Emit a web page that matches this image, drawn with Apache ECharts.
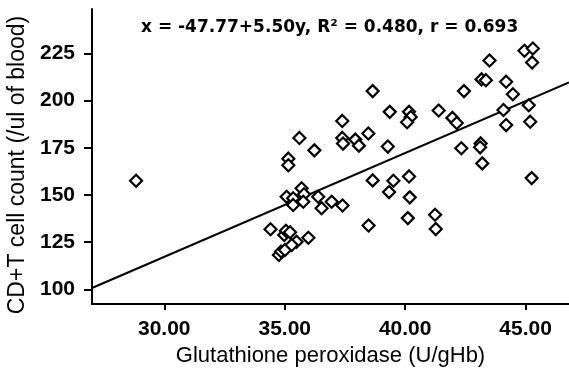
<!DOCTYPE html>
<html>
<head>
<meta charset="utf-8">
<script src="https://cdn.jsdelivr.net/npm/echarts@6/dist/echarts.min.js"></script>
<style>
  html, body { margin: 0; padding: 0; background: #fff; }
  #chart { width: 569px; height: 370px; }
</style>
</head>
<body>
<div id="chart"></div>
<script>
// glutathione peroxidase (U/gHb) vs CD4+T count
const gpx = [
  28.83, 34.41, 34.98, 35.05, 35.22, 35.49, 35.98, 34.76, 34.85, 35.01, 35.29,
  35.08, 35.35, 35.70, 35.80, 35.35, 35.77, 36.39, 36.53, 36.95, 37.40,
  35.15, 35.15, 35.61, 36.23, 37.39, 37.39, 37.42, 37.93, 38.08, 38.47,
  38.65, 38.48, 38.65, 39.28, 39.36, 39.33, 39.51,
  40.16, 40.23, 40.08, 40.16, 40.19, 40.11, 41.24, 41.27, 41.39,
  41.96, 42.14, 42.44, 42.33, 43.17, 43.35, 43.13, 43.11, 43.20, 43.50,
  44.08, 44.19, 44.19, 44.47, 44.95, 45.30, 45.27, 45.13, 45.19, 45.25
];
const cd4 = [
  157.5, 131.8, 128.8, 131.0, 130.2, 125.2, 127.3, 118.2, 120.0, 120.8, 123.5,
  149.0, 148.2, 153.5, 150.3, 144.7, 146.4, 149.0, 142.9, 146.4, 144.4,
  169.2, 165.7, 180.2, 173.6, 189.2, 180.2, 177.2, 179.3, 176.1, 182.5,
  205.0, 133.8, 157.7, 175.6, 194.0, 151.5, 157.5,
  194.0, 191.3, 188.5, 159.8, 148.7, 137.7, 139.5, 131.9, 194.7,
  190.8, 188.1, 205.0, 174.7, 211.2, 210.8, 177.3, 175.2, 166.7, 221.2,
  195.0, 210.0, 187.0, 203.3, 226.4, 227.6, 220.2, 197.5, 188.8, 158.9
];
// fitted line end points as drawn
const fitX = [27, 46.8];
const fitY = [100.7, 209.6];

const xTicks = [30, 35, 40, 45];
const yTicks = [100, 125, 150, 175, 200, 225];

const chart = echarts.init(document.getElementById('chart'));

const font = 'Liberation Sans, Arial, sans-serif';
const axisLine = { show: true, lineStyle: { color: '#000', width: 2 } };

chart.setOption({
  animation: false,
  title: {
    text: 'x = -47.77+5.50y, R² = 0.480, r = 0.693',
    left: 141,
    top: 19,
    padding: 0,
    textStyle: { fontFamily: 'DejaVu Sans', fontWeight: 'bold', fontSize: 17, color: '#000' }
  },
  grid: { left: 92, right: 0, top: 9, bottom: 66, containLabel: false, outerBoundsMode: 'none' },
  xAxis: {
    type: 'value',
    min: 27,
    max: 46.8,
    name: 'Glutathione peroxidase (U/gHb)',
    nameLocation: 'middle',
    nameGap: 40,
    nameTextStyle: { fontFamily: font, fontSize: 22, color: '#000' },
    axisLine: axisLine,
    axisTick: { show: true, length: 6, lineStyle: { color: '#000', width: 2 }, customValues: xTicks },
    axisLabel: {
      fontFamily: font, fontSize: 21, fontWeight: 'bold', color: '#000', margin: 15,
      customValues: xTicks,
      formatter: v => v.toFixed(2)
    },
    splitLine: { show: false }
  },
  yAxis: {
    type: 'value',
    min: 92.2,
    max: 248.5,
    name: 'CD+T cell count (/ul of blood)',
    nameLocation: 'middle',
    nameRotate: 90,
    nameGap: 63,
    nameTextStyle: { fontFamily: font, fontSize: 23, color: '#000', padding: [0, 17, 0, 0] },
    axisLine: axisLine,
    axisTick: { show: true, length: 8, lineStyle: { color: '#000', width: 2 }, customValues: yTicks },
    axisLabel: { fontFamily: font, fontSize: 21, fontWeight: 'bold', color: '#000', margin: 17, customValues: yTicks },
    splitLine: { show: false }
  },
  series: [
    {
      type: 'line',
      data: fitX.map((x, i) => [x, fitY[i]]),
      showSymbol: false,
      lineStyle: { color: '#000', width: 2 },
      z: 1
    },
    {
      type: 'scatter',
      data: gpx.map((x, i) => [x, cd4[i]]),
      symbol: 'diamond',
      symbolSize: [12, 12],
      itemStyle: { color: '#fff', borderColor: '#000', borderWidth: 2.2, opacity: 1 },
      z: 2
    }
  ]
});
</script>
</body>
</html>
